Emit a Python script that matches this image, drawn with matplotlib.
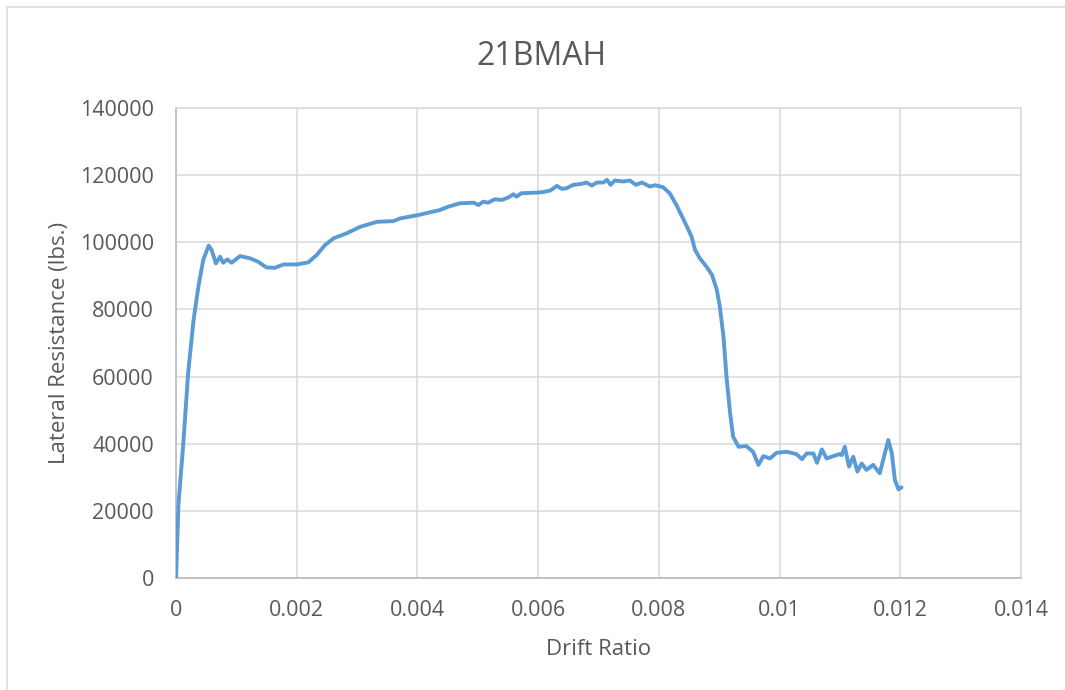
import matplotlib
matplotlib.use("Agg")
import matplotlib.pyplot as plt
from matplotlib.lines import Line2D

# values
drift_ratio = [
    0, 0.00004, 0.00008, 0.00012, 0.0002, 0.00029, 0.00037, 0.00045, 0.00054,
    0.00059, 0.00066, 0.00073, 0.00078, 0.00085, 0.00092, 0.00106, 0.00123,
    0.00136, 0.0015, 0.00164, 0.00178, 0.002, 0.00219, 0.00233, 0.00247,
    0.00261, 0.00283, 0.00305, 0.00333, 0.0036, 0.00371, 0.00401, 0.00437,
    0.00451, 0.0047, 0.00493, 0.00501, 0.00509, 0.00517, 0.00528, 0.0054,
    0.00551, 0.00559, 0.00564, 0.00572, 0.00597, 0.00606, 0.0062, 0.00631,
    0.00639, 0.00647, 0.00658, 0.00672, 0.0068, 0.00689, 0.00697, 0.00708,
    0.00714, 0.0072, 0.00727, 0.00741, 0.00752, 0.00762, 0.00772, 0.00785,
    0.00794, 0.00807, 0.00818, 0.00829, 0.0084, 0.00849, 0.00854, 0.0086,
    0.00868, 0.00879, 0.00888, 0.00896, 0.00901, 0.00907, 0.00912, 0.00918,
    0.00923, 0.00932, 0.00945, 0.00956, 0.00965, 0.00973, 0.00984, 0.00995,
    0.01012, 0.01028, 0.01037, 0.01045, 0.01056, 0.01062, 0.0107, 0.01078,
    0.01089, 0.01099, 0.01103, 0.01108, 0.01115, 0.01122, 0.01129, 0.01136,
    0.01144, 0.01155, 0.01166, 0.0118, 0.01186, 0.01191, 0.01197, 0.01202,
]
lateral_resistance = [
    0, 22000, 31000, 40000, 61000, 76800, 86800, 94700, 99000,
    97700, 93700, 95700, 93900, 94900, 93900, 95900, 95200,
    94200, 92500, 92400, 93400, 93400, 94000, 96200, 99200,
    101200, 102700, 104600, 106100, 106300, 107100, 108100, 109600,
    110600, 111600, 111800, 111100, 112100, 111800, 112800, 112600,
    113400, 114300, 113600, 114600, 114800, 114900, 115400, 116800,
    115900, 116100, 117100, 117400, 117800, 116900, 117800, 117800,
    118600, 117100, 118400, 118100, 118400, 117100, 117800, 116600,
    117000, 116400, 114600, 111100, 107100, 103700, 101700, 97700,
    95200, 92700, 90300, 85800, 80800, 71900, 60000, 49100,
    42100, 39100, 39300, 37600, 33700, 36300, 35600, 37300,
    37600, 36900, 35400, 37100, 37100, 34300, 38300, 35600,
    36300, 36900, 36600, 39100, 33200, 36100, 31700, 34100,
    32200, 33700, 31200, 41100, 37100, 29200, 26400, 27000,
]
x_ticks = [0, 0.002, 0.004, 0.006, 0.008, 0.01, 0.012, 0.014]
x_tick_labels = ["0", "0.002", "0.004", "0.006", "0.008", "0.01", "0.012", "0.014"]
y_ticks = [0, 20000, 40000, 60000, 80000, 100000, 120000, 140000]

plt.rcParams["font.family"] = ["Open Sans", "DejaVu Sans"]
text_color = "#595959"
grid_color = "#D9D9D9"

fig = plt.figure(figsize=(10.65, 6.9), dpi=100)
ax = fig.add_axes([0.1653, 0.1623, 0.7934, 0.6812])

ax.plot(drift_ratio, lateral_resistance, color="#5B9BD5", linewidth=2.8,
        solid_joinstyle="round", solid_capstyle="round", zorder=3)

ax.set_xlim(0, 0.014)
ax.set_ylim(0, 140000)
ax.set_xticks(x_ticks)
ax.set_xticklabels(x_tick_labels)
ax.set_yticks(y_ticks)
ax.set_yticklabels([str(v) for v in y_ticks])
ax.tick_params(length=0, pad=16, labelsize=15.5, labelcolor=text_color)

ax.grid(True, color=grid_color, linewidth=1.1)
ax.set_axisbelow(True)
for side in ["top", "right"]:
    ax.spines[side].set_color(grid_color)
    ax.spines[side].set_linewidth(1.1)
for side in ["left", "bottom"]:
    ax.spines[side].set_color("#BFBFBF")
    ax.spines[side].set_linewidth(1.3)

fig.text(0.508, 0.9058, "21BMAH", ha="center", va="baseline",
         fontsize=23, color=text_color)
fig.text(0.562, 0.0507, "Drift Ratio", ha="center", va="baseline",
         fontsize=16, color=text_color)
fig.text(65 / 1065, 0.503, "Lateral Resistance (lbs.)", rotation=90,
         rotation_mode="anchor", ha="center", va="baseline",
         fontsize=16, color=text_color)

# chart area border (top and left edges visible in the reference)
fig.add_artist(Line2D([7 / 1065, 1.0], [1 - 7 / 690, 1 - 7 / 690],
                      color=grid_color, linewidth=1.1))
fig.add_artist(Line2D([7 / 1065, 7 / 1065], [0.0, 1 - 7 / 690],
                      color=grid_color, linewidth=1.1))

fig.savefig("out.png", dpi=100)
